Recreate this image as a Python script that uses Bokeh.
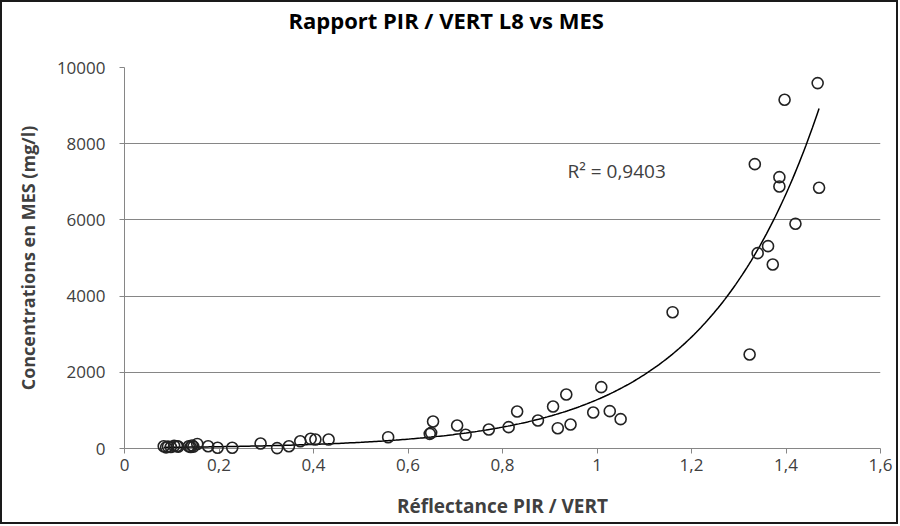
import numpy as np
from bokeh.plotting import figure
from bokeh.layouts import column
from bokeh.models import (Range1d, FixedTicker, CustomJSTickFormatter, Label,
                          ColumnDataSource, Title)
from bokeh.embed import file_html
from bokeh.resources import INLINE

# ---- data ----
ratio = [0.083, 0.088, 0.092, 0.098, 0.105, 0.111, 0.114, 0.136, 0.140, 0.143,
         0.146, 0.154, 0.177, 0.197, 0.228, 0.288, 0.323, 0.348, 0.372, 0.394,
         0.404, 0.432, 0.558, 0.646, 0.649, 0.653, 0.704, 0.722, 0.771, 0.813,
         0.831, 0.875, 0.907, 0.917, 0.935, 0.944, 0.992, 1.009, 1.027, 1.050,
         1.160, 1.323, 1.334, 1.340, 1.362, 1.372, 1.386, 1.386, 1.397, 1.420,
         1.467, 1.470]
mes = [60, 30, 50, 40, 70, 60, 50, 60, 40, 80,
       50, 120, 60, 20, 20, 130, 10, 60, 190, 254,
       236, 236, 297, 385, 411, 709, 603, 359, 499, 560,
       971, 735, 1102, 533, 1417, 630, 945, 1610, 980, 770,
       3578, 2467, 7463, 5127, 5311, 4830, 7122, 6878, 9153, 5898,
       9590, 6843]

# exponential trend line y = A * exp(B * x)
trend_a = 20.6
trend_b = 4.13
r2_text = "R² = 0,9403"

x_ticks = [0, 0.2, 0.4, 0.6, 0.8, 1.0, 1.2, 1.4, 1.6]
x_tick_labels = ["0", "0,2", "0,4", "0,6", "0,8", "1", "1,2", "1,4", "1,6"]
y_ticks = [0, 2000, 4000, 6000, 8000, 10000]
y_tick_labels = ["0", "2000", "4000", "6000", "8000", "10000"]

title_text = "Rapport PIR / VERT L8 vs MES"
x_title = "Réflectance PIR / VERT"
y_title = "Concentrations en MES (mg/l)"

FONT = "Open Sans"
AXIS_COL = "#868686"
TXT_COL = "#404040"

p = figure(width=894, height=520, output_backend="svg", toolbar_location=None,
           x_range=Range1d(0, 1.6), y_range=Range1d(0, 10000),
           min_border_left=122, min_border_right=16, min_border_top=65,
           min_border_bottom=74)
p.outline_line_color = None
p.background_fill_color = "white"
p.border_fill_color = "white"

# spacer panel between the frame and the title (keeps the title near the top)
p.add_layout(Title(text=" ", text_font_size="1px", standoff=30), "above")

p.title.text = title_text
p.title.align = "left"
p.title.offset = 164
p.title.standoff = 0
p.title.vertical_align = "bottom"
p.title.text_font = FONT
p.title.text_font_style = "bold"
p.title.text_font_size = "22px"
p.title.text_color = "black"

p.xgrid.grid_line_color = None
p.ygrid.grid_line_color = AXIS_COL
p.ygrid.ticker = FixedTicker(ticks=y_ticks)

fmt_code = """
const i = tvals.findIndex(t => Math.abs(t - tick) < 1e-9);
return i >= 0 ? tlabels[i] : "";
"""
for ax, tv, tl in ((p.xaxis[0], x_ticks, x_tick_labels), (p.yaxis[0], y_ticks, y_tick_labels)):
    ax.ticker = FixedTicker(ticks=tv)
    ax.formatter = CustomJSTickFormatter(args=dict(tvals=tv, tlabels=tl), code=fmt_code)
    ax.axis_line_color = AXIS_COL
    ax.major_tick_line_color = AXIS_COL
    ax.major_tick_out = 5
    ax.major_tick_in = 0
    ax.minor_tick_line_color = None
    ax.major_label_text_font = FONT
    ax.major_label_text_font_size = "17px"
    ax.major_label_text_color = TXT_COL
    ax.axis_label_text_font = FONT
    ax.axis_label_text_font_style = "bold"
    ax.axis_label_text_color = TXT_COL
p.xaxis.axis_label_text_font_size = "19px"
p.yaxis.axis_label_text_font_size = "18px"
p.xaxis.major_label_standoff = 5
p.yaxis.major_label_standoff = 14
p.xaxis.axis_label = x_title
p.yaxis.axis_label = y_title
p.xaxis.axis_label_standoff = 19
p.yaxis.axis_label_standoff = 14

# trend line
xs_t = np.linspace(min(ratio), max(ratio), 300)
p.line(xs_t, trend_a * np.exp(trend_b * xs_t), line_color="black", line_width=1.5)

# points (overlay level so circles on the axis are not clipped)
src = ColumnDataSource(dict(x=ratio, y=mes))
r = p.scatter("x", "y", source=src, size=11, marker="circle", fill_color=None,
              line_color="#222222", line_width=1.6)
r.level = "overlay"

p.add_layout(Label(x=0.9376, y=7271, text=r2_text, text_align="left",
                   text_baseline="middle", text_font=FONT, text_font_size="19px",
                   text_color=TXT_COL))

layout = column(p, styles={"border": "2px solid #1a1a1a"})
open("out.html", "w").write(file_html(layout, INLINE))
